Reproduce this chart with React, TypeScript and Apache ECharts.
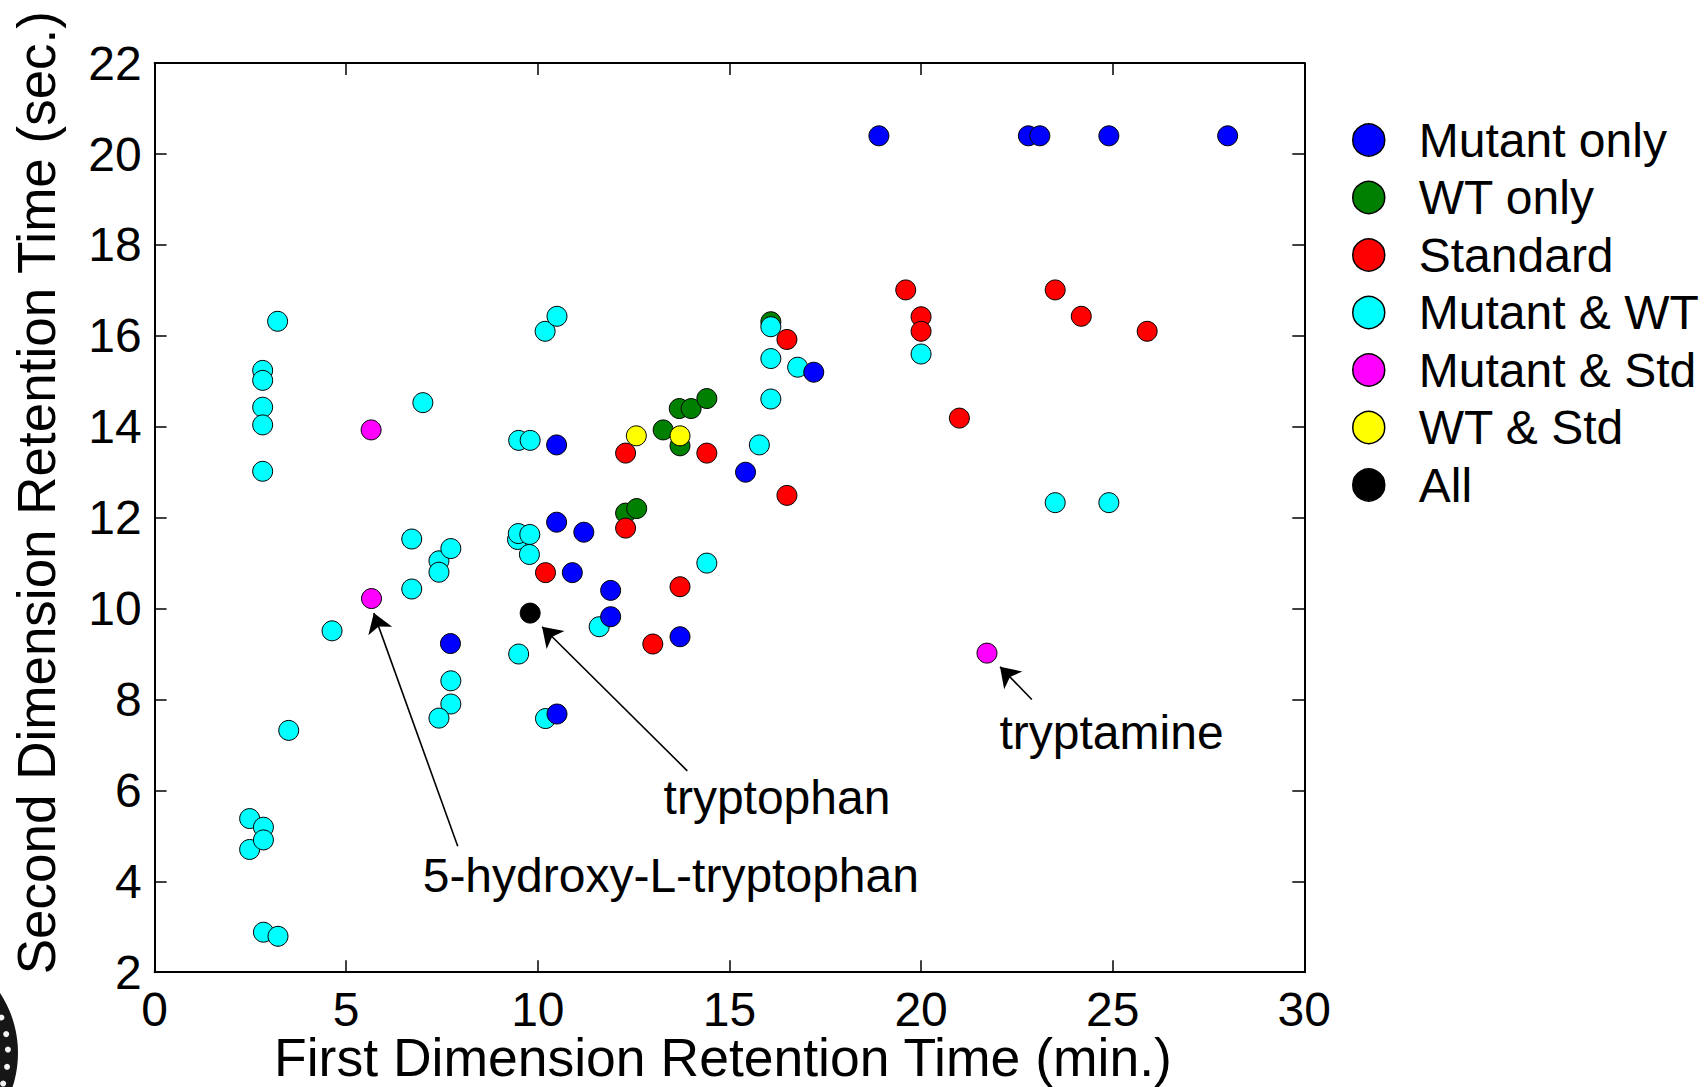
import React, { useEffect, useRef } from "react";
import * as echarts from "echarts";

// ---- data (first dimension min, second dimension sec) ----
const legendNames = ["Mutant only", "WT only", "Standard", "Mutant & WT", "Mutant & Std", "WT & Std", "All"];

const mutantOnly = [
  [18.9, 20.4], [22.8, 20.4], [23.1, 20.4], [24.9, 20.4], [28.0, 20.4],
  [17.2, 15.2], [15.42, 13.0], [10.49, 13.6], [10.49, 11.9], [11.2, 11.68],
  [10.9, 10.79], [11.9, 10.4], [11.9, 9.82], [7.72, 9.23], [13.71, 9.38], [10.5, 7.68],
];
const wtOnly = [
  [16.08, 16.31], [13.27, 13.93], [13.69, 14.4], [14.0, 14.4], [14.41, 14.62],
  [13.71, 13.58], [12.29, 12.1], [12.58, 12.2],
];
const standard = [
  [19.6, 17.01], [20.0, 16.42], [20.0, 16.1], [23.5, 17.01], [24.18, 16.43], [25.9, 16.1],
  [16.5, 15.92], [21.0, 14.19], [12.29, 13.42], [14.41, 13.42], [16.5, 12.49],
  [12.29, 11.77], [10.2, 10.79], [13.71, 10.48], [13.0, 9.22],
];
const mutantWT = [
  [3.21, 16.32], [2.82, 15.24], [2.82, 15.02], [2.82, 14.43], [2.82, 14.04], [2.82, 13.02],
  [7.0, 14.53], [10.19, 16.1], [10.5, 16.43], [9.5, 13.7], [9.8, 13.7],
  [16.08, 16.2], [16.08, 15.5], [16.08, 14.61], [16.78, 15.31], [15.78, 13.6], [20.0, 15.6],
  [23.5, 12.33], [24.9, 12.33], [14.41, 11.0], [11.6, 9.6],
  [6.71, 11.53], [6.71, 10.43], [7.42, 11.05], [7.42, 10.8], [7.73, 11.32],
  [9.47, 11.52], [9.49, 11.65], [9.79, 11.63], [9.78, 11.19],
  [4.63, 9.51], [9.5, 9.0], [7.73, 8.41], [7.73, 7.9], [7.42, 7.59], [10.2, 7.58], [3.5, 7.32],
  [2.48, 5.38], [2.84, 5.19], [2.48, 4.7], [2.84, 4.91], [2.84, 2.88], [3.22, 2.79],
];
const mutantStd = [[5.66, 10.22], [5.65, 13.93], [21.72, 9.02]];
const wtStd = [[12.57, 13.8], [13.71, 13.8]];
const allGroups = [[9.8, 9.9]];

const annotationLabels = ["tryptamine", "tryptophan", "5-hydroxy-L-tryptophan"];
const annotationPositions = [[24.97, 7.27], [16.24, 5.85], [13.47, 4.12]];
const arrowStarts = [[22.89, 8.0], [13.9, 6.43], [7.91, 4.77]];
const arrowEnds = [[22.06, 8.72], [10.11, 9.6], [5.72, 9.9]];

const xTickInterval = 5;
const yTickInterval = 2;

const FONT = "'Liberation Sans', Arial, Helvetica, sans-serif";

export default function App() {
  const ref = useRef<HTMLDivElement>(null);

  useEffect(() => {
    const chart = echarts.init(ref.current!, null, { renderer: "svg" });

    const mk = (name: string, data: number[][], color: string) => ({
      name,
      type: "scatter",
      data,
      symbol: "circle",
      symbolSize: 20,
      itemStyle: { color, borderColor: "#000", borderWidth: 1, opacity: 1 },
      emphasis: { disabled: true },
    });

    const arrowData = arrowStarts.map((s, i) => [{ coord: s }, { coord: arrowEnds[i] }]);

    const axisCommonX = {
      type: "value",
      min: 0,
      max: 30,
      interval: xTickInterval,
      splitLine: { show: false },
    };
    const axisCommonY = {
      type: "value",
      min: 2,
      max: 22,
      interval: yTickInterval,
      splitLine: { show: false },
    };

    // logo seal (partially visible at the bottom-left corner)
    const sealCx = -91;
    const sealCy = 1053;
    const sealDots = [-21, -11, -2, 8, 18].map((deg) => {
      const a = (deg * Math.PI) / 180;
      return {
        type: "circle",
        shape: { cx: sealCx + 99 * Math.cos(a), cy: sealCy + 99 * Math.sin(a), r: 3 },
        style: { fill: "#f4f4f4" },
        silent: true,
      };
    });

    chart.setOption({
      animation: false,
      backgroundColor: "#fff",
      textStyle: { fontFamily: FONT },
      grid: {
        left: 154.6,
        right: 402.7,
        top: 63.1,
        bottom: 114.8,
        containLabel: false,
        outerBoundsMode: "none",
      },
      legend: {
        data: legendNames,
        orient: "vertical",
        left: 1352,
        top: 116,
        padding: 0,
        itemWidth: 32,
        itemHeight: 32,
        itemGap: 9.5,
        icon: "circle",
        selectedMode: false,
        itemStyle: { borderColor: "#000", borderWidth: 1.5 },
        textStyle: { fontSize: 48, color: "#000", fontFamily: FONT, padding: [0, 0, 0, 29] },
      },
      xAxis: [
        {
          ...axisCommonX,
          position: "bottom",
          name: "First Dimension Retention Time (min.)",
          nameLocation: "middle",
          nameGap: 61,
          nameMoveOverlap: false,
          nameTextStyle: {
            fontSize: 53.5,
            lineHeight: 48,
            color: "#000",
            fontFamily: FONT,
            padding: [0, 13, 0, 0],
          },
          axisLine: { show: true, onZero: false, lineStyle: { color: "#000", width: 2 } },
          axisTick: { show: true, inside: true, length: 12, lineStyle: { color: "#000", width: 1.5 } },
          axisLabel: { fontSize: 48, lineHeight: 42, color: "#000", margin: 16, fontFamily: FONT },
        },
        {
          ...axisCommonX,
          position: "top",
          axisLine: { show: true, onZero: false, lineStyle: { color: "#000", width: 2 } },
          axisTick: { show: true, inside: true, length: 12, lineStyle: { color: "#000", width: 1.5 } },
          axisLabel: { show: false },
        },
      ],
      yAxis: [
        {
          ...axisCommonY,
          position: "left",
          name: "Second Dimension Retention Time (sec.)",
          nameLocation: "middle",
          nameGap: 92,
          nameMoveOverlap: false,
          nameTextStyle: { fontSize: 53, color: "#000", fontFamily: FONT, padding: [0, 0, 0, 50] },
          axisLine: { show: true, onZero: false, lineStyle: { color: "#000", width: 2 } },
          axisTick: { show: true, inside: true, length: 12, lineStyle: { color: "#000", width: 1.5 } },
          axisLabel: { fontSize: 48, color: "#000", margin: 13, fontFamily: FONT },
        },
        {
          ...axisCommonY,
          position: "right",
          axisLine: { show: true, onZero: false, lineStyle: { color: "#000", width: 2 } },
          axisTick: { show: true, inside: true, length: 12, lineStyle: { color: "#000", width: 1.5 } },
          axisLabel: { show: false },
        },
      ],
      series: [
        {
          name: "arrows",
          type: "scatter",
          data: [],
          markLine: {
            silent: true,
            symbol: ["none", "arrow"],
            symbolSize: 19,
            label: { show: false },
            lineStyle: { color: "#000", width: 1.6, type: "solid", opacity: 1 },
            itemStyle: { color: "#000" },
            emphasis: { disabled: true },
            data: arrowData,
          },
        },
        mk("WT only", wtOnly, "#008000"),
        mk("WT & Std", wtStd, "#FFFF00"),
        mk("Mutant & WT", mutantWT, "#00FFFF"),
        mk("Standard", standard, "#FF0000"),
        mk("Mutant only", mutantOnly, "#0000FF"),
        mk("Mutant & Std", mutantStd, "#FF00FF"),
        mk("All", allGroups, "#000000"),
      ],
    });

    // annotation texts placed through the chart's own coordinate conversion
    const texts = annotationPositions.map((p, i) => {
      const px = chart.convertToPixel({ gridIndex: 0 }, p) as number[];
      return {
        type: "text",
        x: px[0],
        y: px[1],
        silent: true,
        style: {
          text: annotationLabels[i],
          fill: "#000",
          fontSize: 48,
          fontFamily: FONT,
          align: "center",
          verticalAlign: "middle",
        },
      };
    });

    chart.setOption({
      graphic: [
        {
          type: "ring",
          shape: { cx: sealCx, cy: sealCy, r: 109, r0: 90 },
          style: { fill: "#161616" },
          silent: true,
        },
        ...sealDots,
        ...texts,
      ],
    });

    return () => chart.dispose();
  }, []);

  return (
    <div
      ref={ref}
      style={{ position: "fixed", left: 0, top: 0, width: 1707, height: 1087, background: "#fff" }}
    />
  );
}
